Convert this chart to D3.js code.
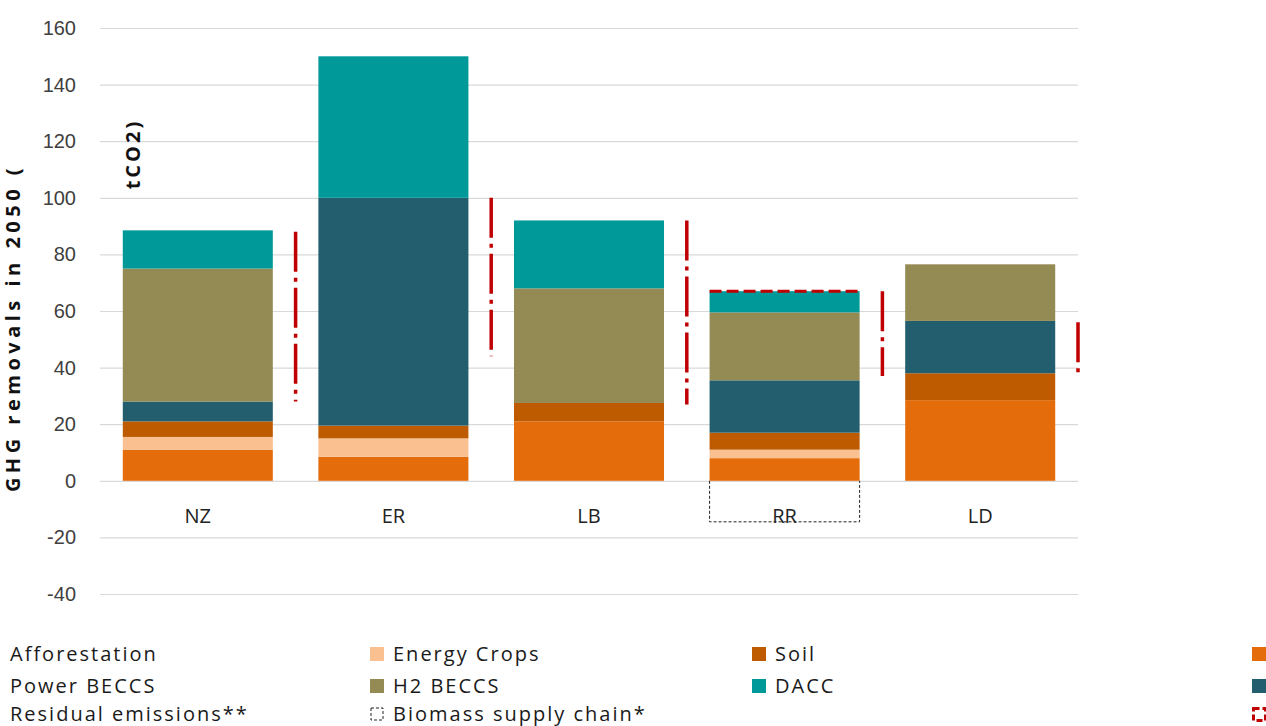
<!DOCTYPE html>
<html>
<head>
    <meta charset="utf-8">
    <title>GHG removals in 2050</title>
    <script src="https://cdnjs.cloudflare.com/ajax/libs/d3/7.8.5/d3.min.js"></script>
    <style>
        body { margin: 0; background: #fff; }
        svg { display: block; font-family: "Open Sans", sans-serif; }
        .grid line { stroke: #d9d9d9; stroke-width: 1.2; }
        .grid path { stroke-width: 0; }
        .tick text { fill: #404040; }
    </style>
</head>
<body>
<div id="chart"></div>
<script>
// scenarios and stacked removal components (MtCO2)
const scenarios = ["NZ", "ER", "LB", "RR", "LD"];
const series = ["Afforestation", "Energy Crops", "Soil", "Power BECCS", "H2 BECCS", "DACC"];
const afforestation = [11, 8.5, 21, 8, 28.5];
const energyCrops   = [4.5, 6.5, 0, 3, 0];
const soil          = [5.5, 4.5, 6.5, 6, 9.5];
const powerBeccs    = [7, 80.5, 0, 18.5, 18.5];
const h2Beccs       = [47, 0, 40.5, 24, 20];
const dacc          = [13.5, 50, 24, 7.5, 0];
// residual emissions range shown as dashed red marker right of each bar
const residualLow  = [28, 44, 27, 37, 38];
const residualHigh = [88, 100, 92, 67, 56];
// biomass supply chain (negative), only RR
const biomassChain = [0, 0, 0, -14.5, 0];
const yTicks = [-40, -20, 0, 20, 40, 60, 80, 100, 120, 140, 160];

const colors = {
    "Afforestation": "#E46C0A",
    "Energy Crops": "#FAC090",
    "Soil": "#BE5B00",
    "Power BECCS": "#235E6E",
    "H2 BECCS": "#948A54",
    "DACC": "#009999"
};
const red = "#C00000";

const width = 1266, height = 726;
const plot = {left: 100, right: 1078, top: 28, bottom: 594};

const svg = d3.select("#chart").append("svg")
    .attr("width", width)
    .attr("height", height);

const x = d3.scaleBand()
    .domain(scenarios)
    .range([plot.left, plot.right])
    .paddingInner(0.233)
    .paddingOuter(0.1165);

const y = d3.scaleLinear()
    .domain([-40, 160])
    .range([plot.bottom, plot.top]);

// gridlines
svg.append("g")
    .attr("class", "grid")
    .attr("transform", `translate(${plot.left},0)`)
    .call(d3.axisLeft(y).tickValues(yTicks).tickSize(-(plot.right - plot.left)).tickFormat(""));

// y tick labels
svg.append("g")
    .attr("transform", `translate(${plot.left},0)`)
    .call(d3.axisLeft(y).tickValues(yTicks).tickSize(0).tickPadding(24).tickFormat(d => d < 0 ? "-" + Math.abs(d) : d))
    .call(g => g.select(".domain").remove())
    .selectAll("text")
    .style("font-size", "20px");

// stacked bars
const table = scenarios.map((s, i) => ({
    scenario: s,
    "Afforestation": afforestation[i],
    "Energy Crops": energyCrops[i],
    "Soil": soil[i],
    "Power BECCS": powerBeccs[i],
    "H2 BECCS": h2Beccs[i],
    "DACC": dacc[i]
}));
const stack = d3.stack().keys(series)(table);

svg.append("g")
    .selectAll("g")
    .data(stack)
    .join("g")
    .attr("fill", d => colors[d.key])
    .selectAll("rect")
    .data(d => d)
    .join("rect")
    .attr("x", d => x(d.data.scenario))
    .attr("y", d => y(d[1]))
    .attr("width", x.bandwidth())
    .attr("height", d => Math.max(0, y(d[0]) - y(d[1])));

// biomass supply chain dashed box
scenarios.forEach((s, i) => {
    if (biomassChain[i] === 0) return;
    svg.append("path")
        .attr("d", `M${x(s)},${y(0)}V${y(biomassChain[i])}H${x(s) + x.bandwidth()}V${y(0)}`)
        .attr("fill", "none")
        .attr("stroke", "#222")
        .attr("stroke-width", 1)
        .attr("stroke-dasharray", "3,2");
});

// residual emissions dashed markers
const gap = x.step() * x.paddingInner() / 2;
scenarios.forEach((s, i) => {
    const xr = x(s) + x.bandwidth() + gap;
    svg.append("line")
        .attr("x1", xr).attr("x2", xr)
        .attr("y1", y(residualHigh[i])).attr("y2", y(residualLow[i]))
        .attr("stroke", red)
        .attr("stroke-width", 3.5)
        .attr("stroke-dasharray", "40,6,4,6");
});
// RR residual top edge
svg.append("line")
    .attr("x1", x("RR")).attr("x2", x("RR") + x.bandwidth())
    .attr("y1", y(residualHigh[3])).attr("y2", y(residualHigh[3]))
    .attr("stroke", red)
    .attr("stroke-width", 3)
    .attr("stroke-dasharray", "12,5");

// category labels
svg.append("g")
    .selectAll("text")
    .data(scenarios)
    .join("text")
    .attr("x", d => x(d) + x.bandwidth() / 2)
    .attr("y", y(0) + 42)
    .attr("text-anchor", "middle")
    .attr("fill", "#222")
    .style("font-size", "20px")
    .text(d => d);

// y axis title (split as in the source image)
svg.append("text")
    .attr("transform", `translate(20,${y(-4)}) rotate(-90)`)
    .attr("fill", "#111")
    .style("font-size", "20px")
    .style("font-weight", "bold")
    .style("letter-spacing", "4.5px")
    .text("GHG removals in 2050 (");
svg.append("text")
    .attr("transform", `translate(140,${y(103)}) rotate(-90)`)
    .attr("fill", "#111")
    .style("font-size", "20px")
    .style("font-weight", "bold")
    .style("letter-spacing", "3px")
    .text("tCO2)");

// legend
const legendItems = [
    {name: "Afforestation", type: "fill", key: "Afforestation"},
    {name: "Energy Crops", type: "fill", key: "Energy Crops"},
    {name: "Soil", type: "fill", key: "Soil"},
    {name: "Power BECCS", type: "fill", key: "Power BECCS"},
    {name: "H2 BECCS", type: "fill", key: "H2 BECCS"},
    {name: "DACC", type: "fill", key: "DACC"},
    {name: "Residual emissions**", type: "red"},
    {name: "Biomass supply chain*", type: "box"}
];
const colX = [10, 393, 775];
const rowY = [654, 686, 714];
const legend = svg.append("g").style("font-size", "20px").style("letter-spacing", "2px");
legendItems.forEach((item, i) => {
    const col = i % 3, row = Math.floor(i / 3);
    const tx = colX[col], ty = rowY[row];
    const mx = col === 0 ? 1252 : tx - 23;
    if (item.type === "fill") {
        legend.append("rect")
            .attr("x", mx).attr("y", ty - 7)
            .attr("width", 14).attr("height", 14)
            .attr("fill", colors[item.key]);
    } else if (item.type === "red") {
        legend.append("rect")
            .attr("x", mx + 1.5).attr("y", ty - 5.5)
            .attr("width", 12).attr("height", 12)
            .attr("fill", "none")
            .attr("stroke", red)
            .attr("stroke-width", 3)
            .attr("stroke-dasharray", "6,3");
    } else {
        legend.append("rect")
            .attr("x", mx + 1).attr("y", ty - 6)
            .attr("width", 12).attr("height", 12)
            .attr("fill", "none")
            .attr("stroke", "#222")
            .attr("stroke-width", 1)
            .attr("stroke-dasharray", "3,2");
    }
    legend.append("text")
        .attr("x", tx).attr("y", ty)
        .attr("dy", "0.35em")
        .attr("fill", "#1a1a1a")
        .text(item.name);
});
</script>
</body>
</html>
